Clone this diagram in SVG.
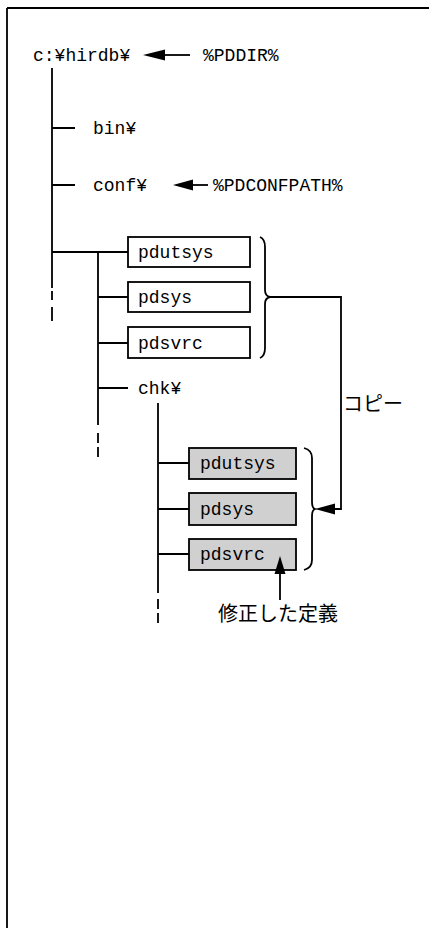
<svg xmlns="http://www.w3.org/2000/svg" width="429" height="928" viewBox="0 0 429 928">
<style>
.t{font-family:"Liberation Mono",monospace;font-size:18px;fill:#000}
.j{font-family:"Noto Sans CJK JP",sans-serif;font-size:20px;fill:#000}
.ln{stroke:#000;stroke-width:1.8;fill:none}
.bx{fill:#fff;stroke:#000;stroke-width:1.8}
.gb{fill:#d0d0d0;stroke:#000;stroke-width:1.8}
.ah{fill:#000;stroke:none}
</style>
<rect x="0" y="0" width="429" height="928" fill="#fff"/>
<g id="frame">
<path class="ln" d="M7,8 H429 M7,8 V928" stroke-width="2.2"/>
</g>
<g id="connectors">
<path class="ln" d="M52,68 V288 M52,291 V300 M52,307 V321"/>
<path class="ln" d="M52,128 H75 M52,185 H75 M52,252 H128"/>
<path class="ln" d="M98,252 V425 M98,433 V443 M98,447 V457"/>
<path class="ln" d="M98,297 H128 M98,343 H128 M98,388 H128"/>
<path class="ln" d="M158,403 V593 M158,599 V609 M158,613 V623"/>
<path class="ln" d="M158,463 H189 M158,509 H189 M158,554 H189"/>
<path class="ln" d="M165,55 H190"/>
<polygon class="ah" points="143,55 165,49.5 165,60.5"/>
<path class="ln" d="M193,185 H208"/>
<polygon class="ah" points="173,185 193,179.5 193,190.5"/>
<path class="ln" d="M260,237 Q265,239 265,247 V290 Q265,296 270,297 Q265,298 265,304 V348 Q265,356 260,358"/>
<path class="ln" d="M304,448 Q312,450 312,458 V502 Q312,508 315,509 Q312,510 312,516 V560 Q312,568 304,570"/>
<path class="ln" d="M270,297 H341 V509 H333"/>
<polygon class="ah" points="315,509 335,503.5 335,514.5"/>
</g>
<g id="root"><text class="t" x="33" y="61">c:¥hirdb¥</text></g>
<g id="pddir"><text class="t" x="203" y="61">%PDDIR%</text></g>
<g id="bin"><text class="t" x="93" y="134">bin¥</text></g>
<g id="conf"><text class="t" x="93" y="191">conf¥</text></g>
<g id="pdconfpath"><text class="t" x="213" y="191">%PDCONFPATH%</text></g>
<g id="pdutsys1"><rect class="bx" x="128" y="237" width="122" height="30"/><text class="t" x="138" y="258">pdutsys</text></g>
<g id="pdsys1"><rect class="bx" x="128" y="282" width="122" height="30"/><text class="t" x="138" y="303">pdsys</text></g>
<g id="pdsvrc1"><rect class="bx" x="128" y="327" width="122" height="31"/><text class="t" x="138" y="349">pdsvrc</text></g>
<g id="chk"><text class="t" x="138" y="394">chk¥</text></g>
<g id="copy"><text class="j" x="343" y="411">コピー</text></g>
<g id="pdutsys2"><rect class="gb" x="189" y="448" width="107" height="31"/><text class="t" x="200" y="469">pdutsys</text></g>
<g id="pdsys2"><rect class="gb" x="189" y="493" width="107" height="32"/><text class="t" x="200" y="515">pdsys</text></g>
<g id="pdsvrc2"><rect class="gb" x="189" y="539" width="107" height="31"/><text class="t" x="200" y="560">pdsvrc</text></g>
<g id="modified-arrow">
<path class="ln" d="M280,600 V572"/>
<polygon class="ah" points="280,556 274.5,574 285.5,574"/>
</g>
<g id="modified"><text class="j" x="218" y="621">修正した定義</text></g>
</svg>
